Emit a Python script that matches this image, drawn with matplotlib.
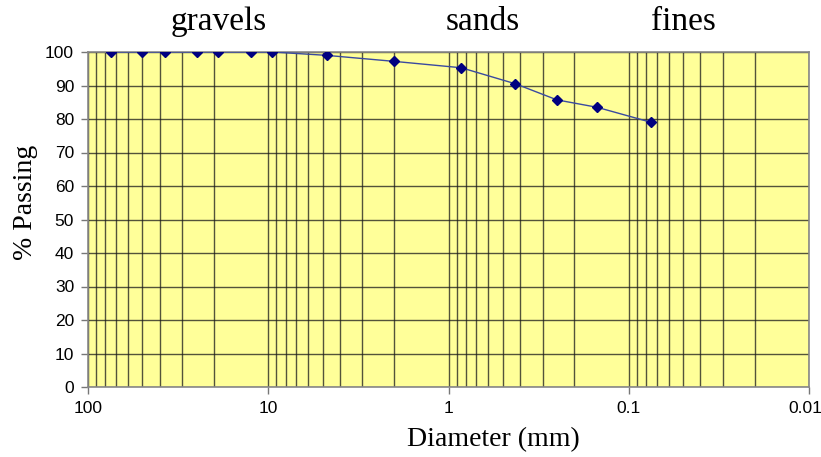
import numpy as np
import matplotlib.pyplot as plt
from matplotlib.ticker import FixedLocator, NullFormatter, LogLocator
from matplotlib.transforms import ScaledTranslation

# sieve sizes (mm) and percent passing
diameter_mm = [75, 50, 37.5, 25, 19, 12.5, 9.5, 4.75, 2.0, 0.85, 0.425, 0.25, 0.15, 0.075]
percent_passing = [100, 100, 100, 100, 100, 100, 100, 99.0, 97.2, 95.3, 90.5, 85.7, 83.5, 79.0]

x_ticks = [100, 10, 1, 0.1, 0.01]
x_tick_labels = ["100", "10", "1", "0.1", "0.01"]
y_ticks = list(range(0, 101, 10))
zones = ["gravels", "sands", "fines"]
zone_x = [219, 483, 683]  # centre pixels of the zone captions

W, H = 821, 457
fig = plt.figure(figsize=(W / 100, H / 100), dpi=100)
ax = fig.add_axes([88 / W, 1 - 387 / H, (809 - 88) / W, (387 - 52) / H])
ax.set_facecolor("#ffff99")

ax.set_xscale("log")
ax.set_xlim(100, 0.01)
ax.set_ylim(0, 100)

ax.xaxis.set_major_locator(FixedLocator(x_ticks))
ax.set_xticks(x_ticks)
ax.set_xticklabels(x_tick_labels)
ax.xaxis.set_minor_locator(LogLocator(base=10, subs=np.arange(2, 10)))
ax.xaxis.set_minor_formatter(NullFormatter())
ax.set_yticks(y_ticks)

ax.grid(True, which="both", axis="x", color="#1a1a1a", linewidth=1.0, alpha=0.75)
ax.grid(True, which="major", axis="y", color="#1a1a1a", linewidth=1.0, alpha=0.75)
ax.set_axisbelow(True)

ax.tick_params(axis="both", which="major", direction="out", color="#777777",
               labelsize=12.5, length=5, width=1, pad=5)
ax.tick_params(axis="x", which="minor", length=0)
for lab in ax.get_xticklabels() + ax.get_yticklabels():
    lab.set_family("Liberation Sans")
# keep the last x label inside the figure
last = ax.get_xticklabels()[-1]
last.set_transform(last.get_transform() + ScaledTranslation(-4 / 100, 0, fig.dpi_scale_trans))
for sp in ax.spines.values():
    sp.set_color("#888888")
    sp.set_linewidth(1.2)

ax.plot(diameter_mm, percent_passing, color="#3a4aa0", linewidth=1.0,
        marker="D", markersize=5, markerfacecolor="#000080",
        markeredgecolor="#000080", zorder=3)

fig.text(493 / W, 1 - 440 / H, "Diameter (mm)", family="Liberation Serif",
         fontsize=20, ha="center", va="center")
fig.text(25 / W, 1 - 202 / H, "% Passing", family="Liberation Serif",
         fontsize=20, ha="center", va="center", rotation=90)

for name, xp in zip(zones, zone_x):
    fig.text(xp / W, 1 - 22 / H, name, family="Liberation Serif", fontsize=24,
             ha="center", va="center")

fig.savefig("out.png", dpi=100)
